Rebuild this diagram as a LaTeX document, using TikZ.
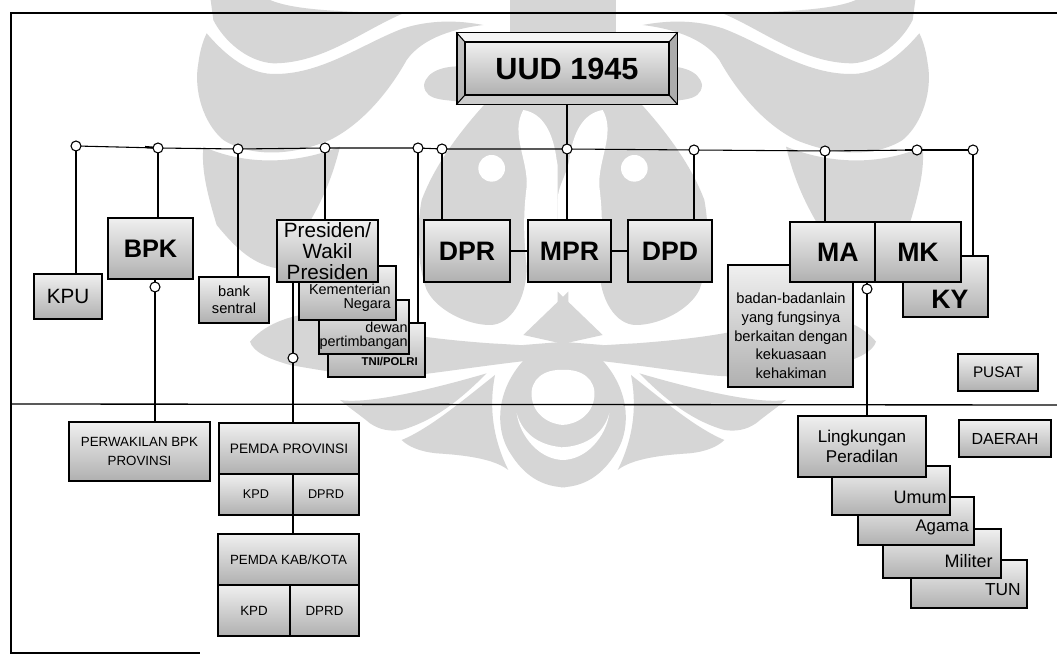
\documentclass[tikz,border=0pt]{standalone}
\usepackage{fontspec}
\setmainfont{Liberation Sans}
\definecolor{wm}{HTML}{D6D6D6}
\tikzset{
  x=0.75pt,y=-0.75pt,
  box/.style={draw=black,line width=1.1pt,top color=#1,bottom color=gray!62,inner sep=0pt,align=center,text=black},
  box/.default=gray!12,
  fs/.style 2 args={font=\fontsize{#1}{#2}\selectfont},
  fb/.style 2 args={font=\bfseries\fontsize{#1}{#2}\selectfont},
  circ/.style={circle,draw=black,line width=0.8pt,fill=white,minimum size=7.5pt,inner sep=0pt},
  link/.style={draw=black,line width=0.8pt},
  thick link/.style={draw=black,line width=1.6pt},
  frame/.style={draw=black,line width=1pt},
  lbl/.style={inner sep=0pt,align=right,text=black},
}
\newcommand{\bx}[7][]{\node[box,#1,minimum width={(#5-#3)*0.75pt},minimum height={(#6-#4)*0.75pt}] (#2) at ({(#3+#5)/2},{(#4+#6)/2}) {#7};}
\newcommand{\wmhalf}{%
\begin{scope}[shift={(190,0)},scale=1/3]
  \fill[wm] (62,0) -- (240,0) .. controls (300,25) and (400,35) .. (640,40) .. controls (520,90) and (400,190) .. (250,190) .. controls (170,185) and (100,120) .. (70,60) -- cycle;
  \fill[wm] (50,100) .. controls (110,170) and (180,225) .. (260,222) .. controls (400,220) and (520,130) .. (640,85) .. controls (720,60) and (800,60) .. (880,75) .. controls (800,85) and (700,110) .. (650,180) .. controls (600,270) and (520,370) .. (420,420) .. controls (300,470) and (180,470) .. (100,420) .. controls (40,370) and (10,270) .. (25,190) .. controls (30,150) and (40,120) .. (50,100) -- cycle;
  \fill[wm] (702,255) .. controls (710,210) and (770,195) .. (830,200) -- (830,310) .. controls (780,295) and (705,310) .. (702,255) -- cycle;
  \fill[wm] (40,440) .. controls (150,490) and (300,500) .. (450,440) .. controls (420,560) and (380,640) .. (300,760) -- (260,805) .. controls (180,790) and (130,735) .. (80,675) .. controls (45,560) and (35,500) .. (40,440) -- cycle;
  \fill[wm] (905,290) .. controls (830,370) and (740,480) .. (695,600) .. controls (680,680) and (680,790) .. (710,870) .. controls (740,930) and (830,975) .. (900,975) .. controls (960,975) and (1010,900) .. (1010,800) -- (1135,800) -- (1135,290) -- cycle;
  \fill[white] (905,505) circle[radius=40];
  \fill[white] (1000,330) .. controls (1060,340) and (1090,400) .. (1100,480) .. controls (1110,530) and (1135,560) .. (1135,600) -- (1135,800) -- (1010,800) .. controls (1000,700) and (1000,640) .. (1010,560) .. controls (1015,480) and (960,400) .. (1000,330) -- cycle;
  \fill[wm] (960,0) -- (1135,0) -- (1135,120) -- (960,120) -- cycle;
  \fill[wm] (1000,1005) -- (1135,875) -- (1135,1035) -- cycle;
  \fill[wm] (180,1025) .. controls (230,965) and (320,940) .. (400,937) .. controls (560,995) and (700,1015) .. (900,1030) .. controls (1000,1035) and (1100,1045) .. (1135,1035) -- (1135,1070) -- (1005,1083) .. controls (900,1095) and (800,1110) .. (720,1120) .. controls (560,1145) and (420,1115) .. (300,1095) .. controls (230,1075) and (190,1055) .. (180,1025) -- cycle;
\end{scope}
\begin{scope}[shift={(380,340)},scale=1/3]
  % wedge
  \fill[wm] (-120,180) .. controls (-60,190) and (80,170) .. (320,100) .. controls (250,170) and (170,240) .. (65,270) .. controls (30,275) and (0,270) .. (-30,250) .. controls (-60,225) and (-90,205) .. (-120,180) -- cycle;
  % lower wing
  \fill[wm] (65,300) .. controls (150,265) and (250,180) .. (345,105) .. controls (330,180) and (330,280) .. (385,390) .. controls (340,355) and (250,345) .. (170,340) .. controls (120,335) and (85,320) .. (65,300) -- cycle;
  % central part
  \fill[wm] (430,62) -- (430,15) -- (555,5) -- (555,442) .. controls (470,440) and (420,390) .. (385,330) .. controls (345,260) and (350,150) .. (430,62) -- cycle;
  \fill[white] (555,90) .. controls (490,85) and (450,120) .. (455,170) .. controls (460,225) and (510,255) .. (555,255) -- cycle;
  \fill[white] (410,220) .. controls (420,290) and (480,362) .. (555,360) -- (555,322) .. controls (490,320) and (430,290) .. (410,220) -- cycle;
\end{scope}}
\begin{document}
\begin{tikzpicture}
\useasboundingbox (0,0) rectangle (1057,655);
\fill[white] (0,0) rectangle (1057,655);
\begin{scope}
\clip (0,0) rectangle (1057,655);
\wmhalf
\begin{scope}[shift={(1126,0)},xscale=-1]\wmhalf\end{scope}
\end{scope}
% frame
\draw[frame] (1057,13) -- (11,13) -- (11,653) -- (200,653);
\draw[frame] (11,404) -- (1057,405);
% boxes
\bx[box=gray!45]{uudo}{457}{33}{677}{104}{}
\fill[white!92!gray] (uudo.north west) -- (uudo.north east) -- (669,42) -- (465,42) -- cycle;
\fill[gray!65] (uudo.north east) -- (uudo.south east) -- (669,95) -- (669,42) -- cycle;
\fill[gray!40] (uudo.south west) -- (uudo.south east) -- (669,95) -- (465,95) -- cycle;
\draw[link] (uudo.north west) rectangle (uudo.south east);
\bx[fb={23}{26}]{uud}{465}{42}{669}{95}{UUD 1945}
\draw[link] (uudo.north west) -- (uud.north west) (uudo.north east) -- (uud.north east) (uudo.south west) -- (uud.south west) (uudo.south east) -- (uud.south east);
\bx[fs={15.5}{18}]{kpu}{34}{274}{102}{319}{KPU}
\bx[fb={19}{22}]{bpk}{108}{218}{193}{279}{BPK}
\bx[fs={11}{12.5}]{bank}{199}{277}{269}{323}{bank\\sentral}
\bx{tni}{328}{323}{425}{377}{}
\node[lbl,anchor=east,fb={8.5}{10}] (tnit) at (418,362) {TNI/POLRI};
\bx{dew}{319}{300}{409}{354}{}
\node[lbl,anchor=east,fs={10.8}{10.5}] (dewt) at (408,336) {dewan\\pertimbangan};
\bx{kem}{299}{266}{396}{320}{}
\node[lbl,anchor=east,fs={10.8}{10.5}] (kemt) at (391,298) {Kementerian\\Negara};
\bx[fs={15.5}{15.5}]{pres}{277}{220}{378}{282}{Presiden/\\Wakil\\Presiden}
\bx[fb={20}{23}]{dpr}{424}{220}{510}{282}{DPR}
\bx[fb={20}{23}]{mpr}{528}{220}{611}{282}{MPR}
\bx[fb={20}{23}]{dpd}{628}{220}{712}{282}{DPD}
\bx{ky}{903}{256}{988}{317}{}
\node[lbl,anchor=center,fb={20}{23}] (kyt) at (950,299) {KY};
\bx{bad}{728}{265}{853}{387}{}
\node[lbl,align=center,fs={11}{14}] (badt) at (791,336) {badan-badanlain\\yang fungsinya\\berkaitan dengan\\kekuasaan\\kehakiman};
\bx[fb={20}{23}]{ma}{790}{222}{875}{282}{\hspace*{8pt}MA}
\bx[fb={20}{23}]{mk}{875}{222}{961}{282}{MK}
\bx[fs={11.5}{13}]{pusat}{958}{354}{1038}{391}{PUSAT}
\bx[fs={12}{14}]{daerah}{959}{420}{1051}{457}{DAERAH}
\bx[fs={10}{14.5}]{perw}{69}{422}{210}{481}{PERWAKILAN BPK\\PROVINSI}
\bx[fs={10.3}{12}]{pp}{219}{423}{359}{474}{PEMDA PROVINSI}
\bx[fs={9.5}{11}]{ppk}{219}{474}{293}{515}{KPD}
\bx[fs={9.5}{11}]{ppd}{293}{474}{359}{515}{DPRD}
\bx[fs={10}{12}]{pk}{218}{534}{359}{585}{PEMDA KAB/KOTA}
\bx[fs={10}{11}]{pkk}{218}{585}{290}{636}{KPD}
\bx[fs={10}{11}]{pkd}{290}{585}{359}{636}{DPRD}
\bx{tun}{911}{560}{1027}{608}{}
\node[lbl,anchor=east,fs={13}{15}] (tunt) at (1021,590) {TUN};
\bx{mil}{883}{529}{1001}{578}{}
\node[lbl,anchor=east,fs={13.5}{15}] (milt) at (993,561) {Militer};
\bx{aga}{858}{497}{974}{545}{}
\node[lbl,anchor=east,fs={12.6}{15}] (agat) at (969,527) {Agama};
\bx{umu}{832}{466}{950}{515}{}
\node[lbl,anchor=east,fs={13.5}{15}] (umut) at (947,497) {Umum};
\bx[fs={12.8}{15}]{ling}{798}{416}{926}{477}{Lingkungan\\Peradilan}
% connector points
\coordinate (c1) at (76,146);
\coordinate (c2) at (158,148);
\coordinate (c3) at (238,149);
\coordinate (c4) at (325,148);
\coordinate (c5) at (418,148);
\coordinate (c6) at (442,149);
\coordinate (c7) at (567,149);
\coordinate (c8) at (694,150);
\coordinate (c9) at (825,151);
\coordinate (c10) at (917,150);
\coordinate (c11) at (973,150);
\coordinate (c12) at (155,287);
\coordinate (c13) at (293,358);
\coordinate (c14) at (867,289);
\coordinate (h1) at (145,147);
\coordinate (h2) at (905,150);
% bus
\draw[link] (c1) -- (c2) -- (c3) -- (c4) -- (c5) -- (c6) -- (c7) -- (c8) -- (c9) -- (c10) -- (c11);
\draw[thick link] (h1) -- (c2);
\draw[thick link] (h2) -- (c10) -- (c11);
\draw[link] (c7 |- uudo.south) -- (c7);
\draw[link] (c1) -- (c1 |- kpu.north);
\draw[link] (c2) -- (c2 |- bpk.north);
\draw[link] (c3) -- (c3 |- bank.north);
\draw[link] (c4) -- (c4 |- pres.north);
\draw[link] (c5) -- (c5 |- tni.north);
\draw[link] (c6) -- (c6 |- dpr.north);
\draw[link] (c7) -- (c7 |- mpr.north);
\draw[link] (c8) -- (c8 |- dpd.north);
\draw[link] (c9) -- (c9 |- ma.north);
\draw[thick link] (c11) -- (c11 |- mk.north);
\draw[link] (c11 |- mk.north) -- (c11 |- ky.north);
\draw[link] (c12 |- bpk.south) -- (c12) -- (c12 |- perw.north);
\draw[thick link] (c13 |- pres.south) -- (c13) -- (c13 |- pp.north);
\draw[link] (c14 |- ma.south) -- (c14) -- (c14 |- ling.north);
\draw[link] (c13 |- ppk.south) -- (c13 |- pk.north);
\draw[thick link] (dpr.east) -- (mpr.west);
\draw[link] (mpr.east) -- (dpd.west);
% circles
\foreach \c in {1,...,14}{\node[circ] (n\c) at (c\c) {};}
\end{tikzpicture}
\end{document}
